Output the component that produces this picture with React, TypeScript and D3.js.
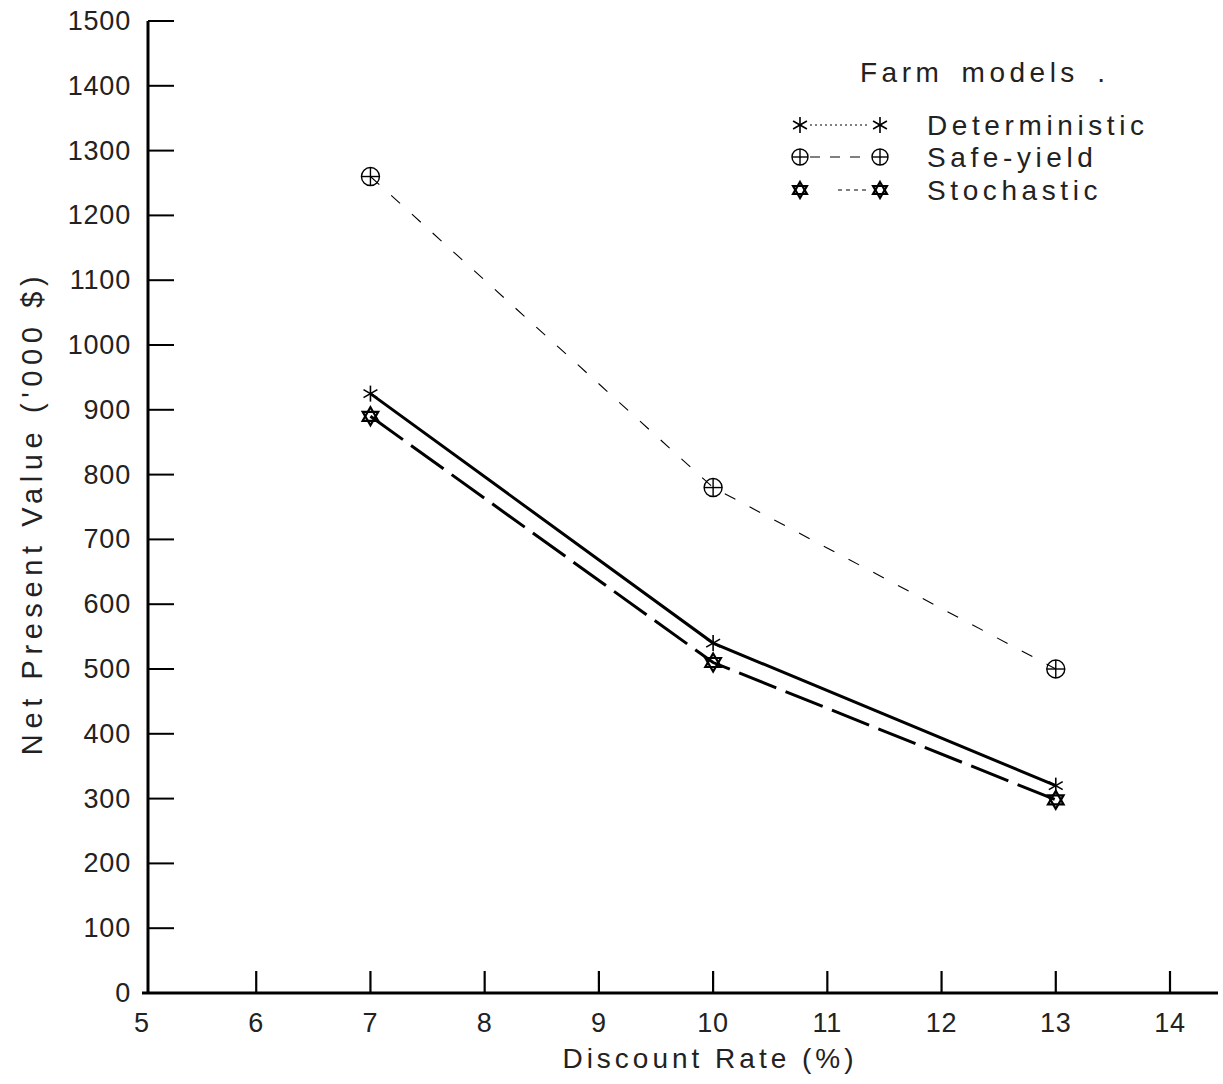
import React from "react";
import * as d3 from "d3";

const rates = [7, 10, 13];
const deterministic = [925, 540, 320];
const safeYield = [1260, 780, 500];
const stochastic = [890, 510, 298];
const xTicks = [5, 6, 7, 8, 9, 10, 11, 12, 13, 14];
const yTicks = [0, 100, 200, 300, 400, 500, 600, 700, 800, 900, 1000, 1100, 1200, 1300, 1400, 1500];
const legendItems = ["Deterministic", "Safe-yield", "Stochastic"];

const W = 1223;
const H = 1084;
const x = d3.scaleLinear().domain([5, 14]).range([142, 1170]);
const y = d3.scaleLinear().domain([0, 1500]).range([993, 21]);
const FONT = "'Liberation Sans', 'DejaVu Sans', sans-serif";

function Asterisk({ cx, cy, r = 8 }: { cx: number; cy: number; r?: number }) {
  const angles = [90, 30, -30];
  return (
    <g stroke="#000" strokeWidth={1.6}>
      {angles.map((a) => {
        const rad = (a * Math.PI) / 180;
        const dx = Math.cos(rad) * r;
        const dy = Math.sin(rad) * r;
        return <line key={a} x1={cx - dx} y1={cy - dy} x2={cx + dx} y2={cy + dy} />;
      })}
    </g>
  );
}

function CircleCross({ cx, cy, r = 9 }: { cx: number; cy: number; r?: number }) {
  return (
    <g stroke="#000" strokeWidth={1.4} fill="none">
      <circle cx={cx} cy={cy} r={r} />
      <line x1={cx - r} y1={cy} x2={cx + r} y2={cy} />
      <line x1={cx} y1={cy - r} x2={cx} y2={cy + r} />
    </g>
  );
}

function Star6({ cx, cy, r = 9 }: { cx: number; cy: number; r?: number }) {
  const tri = (off: number) =>
    d3.range(3).map((i) => {
      const a = ((off + i * 120) * Math.PI) / 180;
      return [cx + Math.cos(a) * r, cy + Math.sin(a) * r] as [number, number];
    });
  const line = d3.line().curve(d3.curveLinearClosed);
  return (
    <g stroke="#000" strokeWidth={2.2} fill="none">
      <path d={line(tri(-90)) || ""} />
      <path d={line(tri(90)) || ""} />
    </g>
  );
}

export default function App() {
  const lineGen = d3
    .line<[number, number]>()
    .x((d) => x(d[0]))
    .y((d) => y(d[1]));
  const pts = (vals: number[]) => rates.map((r, i) => [r, vals[i]] as [number, number]);

  const legendX1 = 800;
  const legendX2 = 880;
  const legendYs = [125, 157, 190];

  return (
    <svg
      width={W}
      height={H}
      style={{ position: "absolute", left: 0, top: 0, background: "#fff" }}
      fontFamily={FONT}
    >
      <rect width={W} height={H} fill="#fff" />
      {/* axes */}
      <line x1={148} y1={y(1500)} x2={148} y2={y(0) + 1} stroke="#000" strokeWidth={3} />
      <line x1={x(5)} y1={y(0)} x2={1218} y2={y(0)} stroke="#000" strokeWidth={3} />
      {yTicks.map((t) => (
        <g key={"y" + t}>
          <line x1={148} y1={y(t)} x2={174} y2={y(t)} stroke="#000" strokeWidth={2} />
          <text x={131} y={y(t)} textAnchor="end" dominantBaseline="central" fontSize={27} fill="#222" letterSpacing={0.8}>
            {t}
          </text>
        </g>
      ))}
      {xTicks.map((t) => (
        <g key={"x" + t}>
          {t > 5 && <line x1={x(t)} y1={y(0)} x2={x(t)} y2={y(0) - 22} stroke="#000" strokeWidth={2.2} />}
          <text x={x(t)} y={1023} textAnchor="middle" dominantBaseline="central" fontSize={27} fill="#222" letterSpacing={0.8}>
            {t}
          </text>
        </g>
      ))}
      <text x={710} y={1058} textAnchor="middle" dominantBaseline="central" fontSize={28} fill="#222" letterSpacing={4}>
        Discount Rate (%)
      </text>
      <text
        transform={`translate(32,513) rotate(-90)`}
        textAnchor="middle"
        dominantBaseline="central"
        fontSize={29}
        fill="#222"
        letterSpacing={5.6}
      >
        Net Present Value ('000 $)
      </text>

      {/* series lines */}
      <path d={lineGen(pts(safeYield)) || ""} fill="none" stroke="#000" strokeWidth={1.1} strokeDasharray="12 16" />
      <path d={lineGen(pts(deterministic)) || ""} fill="none" stroke="#000" strokeWidth={3} />
      <path d={lineGen(pts(stochastic)) || ""} fill="none" stroke="#000" strokeWidth={3} strokeDasharray="40 10" />

      {/* markers */}
      {rates.map((r, i) => (
        <g key={"m" + r}>
          <CircleCross cx={x(r)} cy={y(safeYield[i])} />
          <Asterisk cx={x(r)} cy={y(deterministic[i])} />
          <Star6 cx={x(r)} cy={y(stochastic[i])} />
        </g>
      ))}

      {/* legend */}
      <text x={860} y={72} dominantBaseline="central" fontSize={28} fill="#222" letterSpacing={4.5} wordSpacing={6}>
        Farm models .
      </text>
      {legendItems.map((name, i) => {
        const ly = legendYs[i];
        const dash = i === 0 ? "2 3" : i === 1 ? "10 10" : "4 4";
        const x1 = i === 2 ? legendX1 + 38 : legendX1 + 10;
        return (
          <g key={name}>
            <line x1={x1} y1={ly} x2={legendX2 - 10} y2={ly} stroke="#000" strokeWidth={1} strokeDasharray={dash} />
            {i === 0 && (
              <>
                <Asterisk cx={legendX1} cy={ly} />
                <Asterisk cx={legendX2} cy={ly} />
              </>
            )}
            {i === 1 && (
              <>
                <CircleCross cx={legendX1} cy={ly} r={8} />
                <CircleCross cx={legendX2} cy={ly} r={8} />
              </>
            )}
            {i === 2 && (
              <>
                <Star6 cx={legendX1} cy={ly} r={8} />
                <Star6 cx={legendX2} cy={ly} r={8} />
              </>
            )}
            <text x={927} y={ly} dominantBaseline="central" fontSize={28} fill="#222" letterSpacing={4.6}>
              {name}
            </text>
          </g>
        );
      })}
    </svg>
  );
}
